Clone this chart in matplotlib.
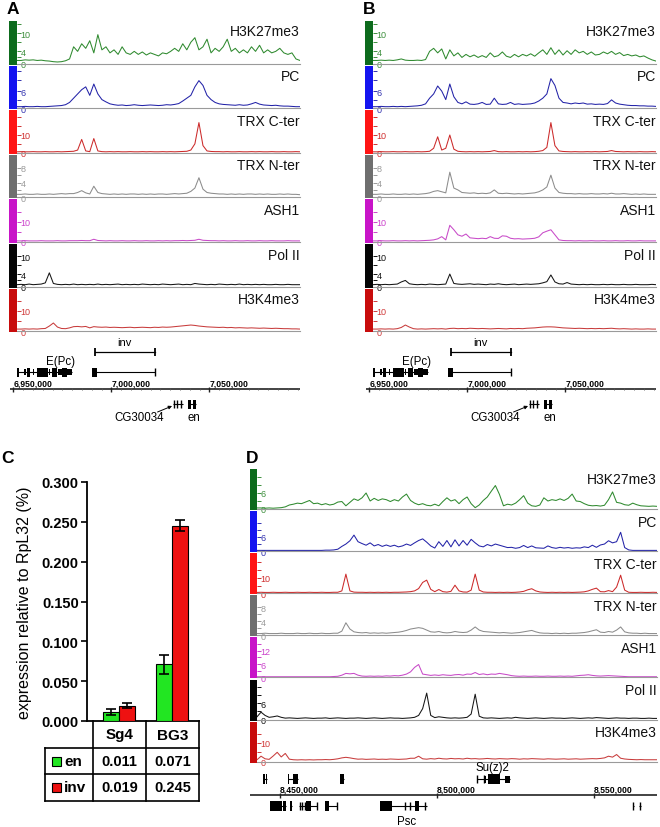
import numpy as np
import matplotlib
matplotlib.use("Agg")
import matplotlib.pyplot as plt
from matplotlib.patches import Rectangle

plt.rcParams['font.family'] = ['Liberation Sans', 'DejaVu Sans']

# ======================= DATA =======================
track_names = ['H3K27me3', 'PC', 'TRX C-ter', 'TRX N-ter', 'ASH1', 'Pol II', 'H3K4me3']

# ---- panel A signals (evenly spaced along the visible window) ----
A_H3K27me3 = [1.0,1.0,1.2,1.1,1.2,1.0,1.1,0.9,0.8,0.6,0.5,0.6,0.9,1.5,5.5,4.0,6.5,5.0,7.5,3.5,9.5,4.5,5.5,3.5,4.5,3.0,5.5,3.5,3.0,4.0,3.0,3.8,2.8,3.5,3.0,2.5,3.5,3.2,4.0,5.0,4.0,6.5,4.5,7.0,8.5,4.5,5.5,8.0,3.5,5.0,4.0,5.5,8.0,4.0,5.0,3.5,4.5,3.5,5.5,4.0,6.0,3.5,4.5,3.5,4.0,5.0,3.5,3.0,3.5,1.5,1.0]
A_PC = [0.5,0.5,0.6,0.5,0.5,0.6,0.5,0.5,0.6,0.7,0.8,0.9,1.2,2.0,3.5,5.0,6.5,7.5,4.5,8.5,5.0,3.0,2.2,1.5,1.2,1.0,1.1,0.9,1.0,1.2,1.0,0.9,1.0,1.1,1.0,0.9,1.0,1.2,1.1,1.3,1.6,2.5,3.5,4.5,7.5,9.7,8.0,4.5,3.0,2.0,1.5,1.3,1.2,1.1,1.0,1.2,1.0,1.1,1.5,2.0,1.4,1.1,1.0,0.9,1.0,0.8,0.7,0.7,0.6,0.5,0.5]
A_TRXC = [0.5,0.6,0.5,0.5,0.6,0.5,0.5,0.6,0.5,0.5,0.6,0.5,0.6,0.7,0.8,1.5,7.5,1.0,0.6,8.0,1.0,0.6,0.5,0.6,0.5,0.6,0.5,0.5,0.6,0.5,0.5,0.6,0.5,0.6,0.5,0.5,0.6,0.5,0.6,0.5,0.6,0.7,0.8,1.5,5.0,17.0,4.0,1.0,0.7,0.6,0.6,0.5,0.6,0.5,0.5,0.6,0.5,0.5,0.6,0.5,0.6,0.5,0.5,0.6,0.5,0.5,0.6,0.5,0.5,0.6,0.5]
A_TRXN = [0.8,0.8,0.9,0.8,0.8,0.9,0.8,0.8,0.9,0.8,0.9,1.0,0.9,1.0,1.0,1.3,1.8,1.2,0.9,3.0,1.3,1.0,0.9,0.8,0.9,0.8,0.9,0.8,0.9,0.9,0.8,0.9,0.8,0.9,0.8,0.9,0.9,0.8,0.9,1.0,0.9,1.0,1.1,1.6,2.5,5.3,2.2,1.3,1.1,1.0,0.9,0.9,0.8,0.9,0.8,0.9,0.8,0.9,0.9,0.8,0.9,0.8,0.9,0.8,0.8,0.9,0.8,0.9,0.8,0.8,0.7]
A_ASH1 = [0.5,0.5,0.6,0.5,0.5,0.5,0.6,0.5,0.5,0.5,0.6,0.5,0.5,0.6,0.6,0.6,0.7,0.6,0.6,1.3,0.7,0.6,0.5,0.6,0.5,0.5,0.6,0.5,0.5,0.6,0.5,0.5,0.6,0.5,0.5,0.6,0.5,0.6,0.5,0.6,0.6,0.7,0.6,0.7,0.8,1.3,0.8,0.7,0.6,0.6,0.5,0.6,0.5,0.5,0.6,0.5,0.5,0.6,0.5,0.5,0.6,0.5,0.5,0.6,0.5,0.5,0.5,0.6,0.5,0.5,0.5]
A_PolII = [0.6,0.7,0.6,0.8,0.6,0.7,0.8,1.2,4.5,1.0,0.7,0.6,0.7,0.6,0.8,0.6,0.7,0.6,0.7,0.6,0.8,0.6,0.7,0.6,0.7,0.8,0.6,0.7,0.6,0.7,0.6,0.8,0.7,0.6,0.7,0.6,0.8,0.7,0.6,0.7,0.8,0.6,0.7,0.6,1.0,0.8,0.7,0.6,0.7,0.6,0.8,0.7,0.6,0.7,0.6,0.8,0.6,0.7,0.6,0.7,0.6,0.7,0.6,0.6,0.7,0.6,0.6,0.7,0.6,0.6,0.6]
A_H3K4me3 = [1.0,1.0,1.1,1.0,1.1,1.0,1.2,1.3,2.5,4.0,2.0,1.3,1.2,1.6,2.2,2.3,2.1,2.3,1.6,2.2,2.0,1.9,2.0,1.8,1.9,1.8,1.7,1.8,1.9,1.7,1.8,1.9,1.8,1.7,1.9,1.8,2.0,1.9,2.0,2.2,2.4,2.6,2.8,3.0,2.8,2.5,2.3,2.1,2.0,1.9,1.8,1.9,1.7,1.8,1.6,1.7,1.6,1.5,1.6,1.5,1.4,1.5,1.4,1.3,1.4,1.3,1.2,1.2,1.1,1.1,1.0]

# ---- panel B signals ----
B_H3K27me3 = [1.0,1.0,1.1,1.0,1.1,1.0,1.2,1.5,1.1,1.0,1.0,1.1,1.0,1.3,4.0,5.0,3.5,4.8,1.5,4.5,2.5,3.5,2.0,3.0,2.2,2.8,2.0,2.6,2.0,3.5,2.2,2.6,3.8,2.4,2.0,3.0,2.2,3.0,2.5,3.2,2.4,3.5,4.5,3.0,5.2,3.0,4.5,2.8,4.2,3.0,4.5,3.5,4.0,3.0,3.8,2.8,3.0,3.8,3.2,4.0,3.0,3.6,2.6,3.0,2.5,2.8,2.2,2.5,1.8,1.2,0.8]
B_PC = [0.5,0.5,0.6,0.5,0.5,0.6,0.5,0.6,0.5,0.6,0.7,0.8,1.0,1.5,3.5,5.0,7.8,6.0,3.0,8.5,4.0,2.0,1.5,2.2,1.4,1.3,1.5,2.0,1.3,1.4,3.5,1.5,1.3,1.4,2.0,1.3,1.5,1.3,1.4,1.5,1.8,2.5,3.5,5.0,10.4,8.0,3.5,2.0,1.8,1.5,1.8,1.6,1.8,1.4,1.5,1.3,1.4,1.3,1.6,2.9,1.8,1.4,1.2,1.0,0.9,0.9,0.8,0.8,0.7,0.7,0.6]
B_TRXC = [0.5,0.5,0.6,0.5,0.5,0.6,0.5,0.5,0.6,0.5,0.5,0.6,0.5,0.6,0.8,2.5,9.0,1.5,2.5,10.0,2.0,0.8,0.6,0.5,0.6,0.5,0.6,0.5,0.6,0.7,1.2,0.6,0.5,0.6,0.5,0.5,0.6,0.5,0.6,0.5,0.6,0.8,1.2,3.0,17.0,4.0,1.0,0.7,0.6,0.5,0.6,0.5,0.5,0.6,0.5,0.6,0.5,0.6,0.7,1.2,0.7,0.6,0.5,0.6,0.5,0.5,0.6,0.5,0.5,0.6,0.5]
B_TRXN = [0.8,0.8,0.9,0.8,0.8,0.9,0.8,0.8,0.9,0.8,0.9,0.8,0.9,1.0,1.2,1.6,1.8,1.5,1.2,6.8,2.5,2.0,1.3,1.2,1.1,1.2,1.0,1.1,1.0,1.2,2.0,1.1,1.0,1.1,1.0,0.9,1.0,0.9,1.0,1.1,1.2,1.5,2.0,2.8,6.0,2.5,1.3,1.1,1.0,1.0,0.9,1.0,0.9,0.9,1.0,0.9,0.9,1.0,0.9,1.1,0.9,0.9,1.0,0.9,0.8,0.9,0.8,0.9,0.8,0.8,0.8]
B_ASH1 = [0.5,0.5,0.6,0.5,0.5,0.6,0.5,0.5,0.6,0.5,0.6,0.5,0.6,0.7,0.8,1.0,1.5,2.6,1.0,8.2,6.0,3.5,2.8,3.9,2.0,1.8,1.6,1.8,1.6,2.6,1.8,1.7,3.0,2.8,1.8,1.5,1.6,1.4,1.5,1.6,1.8,2.5,4.5,5.3,6.0,3.5,1.0,0.7,0.6,0.6,0.5,0.6,0.5,0.5,0.6,0.5,0.5,0.6,0.5,0.5,0.6,0.5,0.5,0.6,0.5,0.5,0.6,0.5,0.5,0.5,0.5]
B_PolII = [0.6,0.7,0.6,0.7,0.6,0.7,0.8,1.5,2.0,0.9,0.7,0.6,0.7,0.6,0.8,0.7,0.6,0.7,0.8,4.1,1.0,0.8,0.7,0.8,0.9,0.7,0.8,0.7,0.6,0.8,0.7,0.9,0.7,0.6,0.7,0.8,0.6,0.7,0.8,0.7,0.8,0.9,1.2,1.6,3.8,1.5,0.9,0.8,1.3,0.8,0.7,0.6,0.7,0.6,0.7,0.6,0.6,0.7,0.6,0.7,0.6,0.6,0.7,0.6,0.6,0.7,0.6,0.6,0.6,0.7,0.6]
B_H3K4me3 = [1.0,1.0,1.1,1.0,1.1,1.0,1.2,1.8,3.0,2.0,1.2,1.0,1.1,1.0,1.1,1.2,1.1,1.2,1.0,1.3,1.4,1.2,1.3,1.2,1.4,1.3,1.2,1.3,1.2,1.1,1.2,1.3,1.2,1.1,1.3,1.2,1.3,1.2,1.4,1.5,1.6,1.8,2.0,2.1,2.1,2.0,1.8,1.6,1.5,1.4,1.3,1.4,1.3,1.2,1.3,1.2,1.3,1.2,1.3,1.4,1.2,1.1,1.2,1.1,1.0,1.1,1.0,1.0,1.1,1.0,1.0]

# ---- panel D signals ----
D_H3K27me3 = [0.4,0.4,0.3,0.4,0.3,0.4,0.5,0.8,1.5,1.8,2.2,2.0,2.6,3.2,2.0,2.2,1.6,2.0,1.5,1.8,2.6,2.8,1.2,2.5,3.8,3.2,4.2,6.0,3.0,4.0,3.2,3.8,3.5,2.8,3.5,3.0,4.5,5.6,3.2,2.2,1.6,2.0,1.4,1.2,1.8,1.2,2.8,4.2,3.0,3.5,2.0,3.5,4.5,2.0,0.5,1.5,3.2,4.5,6.7,8.8,5.5,1.2,1.8,1.5,2.2,3.5,5.0,2.2,1.2,1.0,1.5,4.2,3.0,3.5,3.2,3.8,3.2,4.0,5.6,3.0,2.8,2.0,1.4,1.2,1.3,1.1,1.4,3.5,6.4,2.5,2.2,1.6,1.4,2.2,1.6,1.2,1.1,1.0,1.1,1.0]
D_PC = [0.3,0.3,0.3,0.3,0.3,0.3,0.3,0.3,0.3,0.3,0.3,0.3,0.3,0.3,0.3,0.3,0.3,0.4,0.4,0.5,0.8,2.0,3.0,4.4,6.8,4.0,3.2,2.5,3.5,2.2,2.8,2.0,2.6,2.0,2.5,1.8,2.2,3.0,2.4,3.5,4.5,5.2,3.8,2.2,1.3,4.0,2.0,4.5,1.8,4.8,2.2,4.5,2.5,5.0,3.5,2.2,1.8,2.8,2.2,3.0,2.5,2.0,1.5,1.6,1.2,1.5,2.4,1.5,2.2,1.4,1.3,1.2,2.2,1.5,1.2,1.6,1.3,1.5,1.2,1.4,1.3,1.8,1.5,2.5,1.6,2.6,3.0,4.4,3.5,4.0,8.0,1.5,0.5,0.3,0.3,0.3,0.3,0.3,0.3,0.3]
D_TRXC = [0.5,0.6,0.5,0.5,0.6,0.5,0.5,0.6,0.5,0.5,0.6,0.5,0.5,0.6,0.5,0.5,0.6,0.5,0.5,0.6,0.6,1.5,12.4,1.5,0.7,0.6,0.6,0.5,0.6,0.5,0.6,0.5,0.6,0.5,0.6,0.6,0.7,0.8,1.0,1.5,3.0,7.0,8.5,2.5,1.0,2.4,1.0,0.7,1.2,5.2,1.5,0.8,0.7,2.0,12.4,2.0,0.8,0.6,0.6,0.5,0.6,0.5,0.6,0.5,0.6,0.8,1.2,2.2,2.9,1.5,0.8,0.6,0.5,0.6,0.5,0.6,0.5,0.6,0.5,0.6,0.7,0.9,1.5,2.5,3.3,1.0,0.9,1.7,1.0,4.0,11.7,2.0,0.6,0.5,0.5,0.6,0.5,0.5,0.6,0.5]
D_TRXN = [0.5,0.5,0.6,0.5,0.5,0.5,0.6,0.5,0.5,0.5,0.6,0.5,0.5,0.6,0.5,0.5,0.6,0.5,0.5,0.6,0.6,1.2,3.6,1.8,1.0,0.8,0.7,0.8,0.6,0.7,0.6,0.7,0.6,0.7,0.8,0.9,1.1,1.4,1.8,2.0,2.2,2.0,1.5,1.0,0.9,1.1,0.8,0.7,0.8,1.1,0.9,0.8,0.9,1.5,2.4,1.5,1.1,1.0,0.9,0.8,0.7,0.8,0.7,0.6,0.7,0.8,1.0,1.2,1.4,1.0,0.7,0.6,0.6,0.5,0.6,0.5,0.6,0.5,0.6,0.6,0.7,0.8,1.0,1.3,1.6,0.9,0.8,1.1,0.9,1.5,2.4,1.0,0.7,0.6,0.6,0.5,0.6,0.5,0.5,0.5]
D_ASH1 = [0.3,0.3,0.3,0.3,0.3,0.3,0.3,0.3,0.3,0.3,0.3,0.3,0.3,0.3,0.3,0.3,0.3,0.3,0.3,0.4,0.5,1.0,1.8,1.6,1.8,1.0,0.6,0.5,0.6,0.5,0.6,0.5,0.7,0.6,0.8,0.7,1.0,1.5,2.5,4.5,5.8,1.5,1.2,0.9,1.1,0.9,1.2,1.0,0.9,1.2,1.3,1.0,1.5,1.4,2.2,1.3,1.6,1.2,1.5,1.4,1.8,1.5,1.2,0.8,0.6,0.5,0.6,0.5,0.5,0.6,0.5,0.5,0.6,0.5,0.5,0.6,0.5,0.6,0.5,0.7,0.9,1.0,1.2,0.9,0.7,0.6,0.7,0.8,0.7,0.6,0.5,0.4,0.3,0.3,0.3,0.3,0.3,0.3,0.3,0.3]
D_PolII = [1.0,2.7,1.5,0.8,1.0,1.3,0.8,0.5,0.6,0.5,0.4,0.5,0.6,0.5,0.4,0.5,0.5,0.6,0.4,0.5,0.6,0.5,0.4,0.5,0.5,0.6,0.5,0.4,0.5,0.6,0.5,0.4,0.5,0.6,0.5,0.5,0.4,0.5,0.6,0.8,1.5,4.0,9.7,1.5,0.7,1.0,0.8,0.6,0.5,0.6,0.5,0.6,0.8,2.0,9.3,1.2,0.6,0.5,0.6,0.5,0.4,0.5,0.6,0.5,0.8,0.6,0.5,0.4,0.5,0.6,0.5,0.4,0.5,0.6,0.5,0.5,0.4,0.5,0.6,0.5,0.4,0.5,0.6,0.5,0.7,0.6,0.5,0.4,0.5,0.6,0.5,0.5,0.4,0.5,0.5,0.4,0.4,0.5,0.4,0.4]
D_H3K4me3 = [1.0,2.9,1.5,1.2,3.0,5.0,2.5,4.4,1.3,1.0,0.9,1.0,0.9,1.0,0.9,1.0,1.0,1.1,1.0,1.2,1.5,2.0,2.3,2.0,1.6,1.3,1.4,1.2,1.3,1.4,1.2,1.3,1.2,1.4,1.3,1.2,1.3,1.4,1.8,1.8,2.9,1.5,1.3,1.6,1.4,1.8,1.5,1.4,1.7,1.5,1.6,1.4,1.8,1.5,1.6,1.4,1.5,1.7,1.5,1.4,1.6,1.5,1.4,1.6,1.5,1.3,1.5,1.4,1.6,1.5,1.4,1.3,1.5,1.4,1.3,1.4,1.5,1.3,1.4,1.5,1.3,1.4,1.5,1.6,1.5,1.7,2.0,2.9,2.4,3.8,1.8,1.4,1.2,1.1,1.0,1.1,1.0,1.0,1.0,1.0]

A_signals = [A_H3K27me3, A_PC, A_TRXC, A_TRXN, A_ASH1, A_PolII, A_H3K4me3]
B_signals = [B_H3K27me3, B_PC, B_TRXC, B_TRXN, B_ASH1, B_PolII, B_H3K4me3]
D_signals = [D_H3K27me3, D_PC, D_TRXC, D_TRXN, D_ASH1, D_PolII, D_H3K4me3]

# track scale maxima and labelled ticks
AB_ymax = [14, 15, 24, 11.5, 21, 14, 21]
AB_ticks = [[0, 4, 10], [0, 6], [0, 10], [0, 4, 8], [0, 10], [0, 4, 10], [0, 10]]
AB_minor = [[2, 7, 13], [3, 10, 13], [5, 15, 20], [2, 6], [5, 15], [2, 7], [5, 15]]
D_ymax = [15, 17, 26, 11.5, 18, 14.7, 21.5]
D_ticks = [[0, 6], [0, 6], [0, 10], [0, 4, 8], [0, 6, 12], [0, 6], [0, 10]]
D_minor = [[3, 9, 12], [3, 9, 12], [5, 15, 20], [2, 6], [3, 9, 15], [3, 9, 12], [5, 15]]

# genomic scale ticks
AB_scale_ticks = [6950000, 7000000, 7050000]
D_scale_ticks = [8450000, 8500000, 8550000]

# gene models (line extent, exons (start, end, kind))
EPc_gene = ((6951900, 6979900), [(6952100, 6952700, 'c'), (6955400, 6956400, 'u'), (6957000, 6958300, 'c'),
                                  (6960000, 6960600, 'u'), (6962100, 6962900, 'c'), (6963100, 6967700, 'c'),
                                  (6968200, 6968700, 'u'), (6969700, 6972300, 'c'), (6972600, 6974800, 'u'),
                                  (6974900, 6977400, 'c'), (6977400, 6979700, 'u')])
inv_gene = ((6990150, 7022250), [(6990150, 6992700, 'c'), (7022000, 7022300, 't')])
inv_region = (6991700, 7022250)
CG30034_gene = ((7031700, 7036600), [(7031600, 7031900, 't'), (7033400, 7033700, 't'), (7035300, 7035600, 't')])
en_gene = ((7039100, 7043200), [(7039100, 7040600, 'c'), (7041700, 7043200, 'c')])

D_upper_genes = [
    ((8444580, 8445900), [(8444580, 8445100, 'c'), (8445400, 8445900, 'c')]),
    ((8452550, 8455730), [(8452450, 8452800, 'c'), (8454140, 8455730, 'c')]),
    ((8469110, 8470380), [(8469110, 8470380, 'c')]),
    ((8512745, 8523255), [(8512745, 8513000, 't'), (8514700, 8515000, 't'), (8515300, 8515700, 'u'),
                          (8516250, 8520070, 'c'), (8521660, 8523255, 'u')]),
]
D_lower_genes = [
    ((8446815, 8452070), [(8446815, 8448570, 'c'), (8448885, 8450480, 'c'), (8450955, 8452070, 'c')]),
    ((8453185, 8453820), [(8453185, 8453820, 'c')]),
    ((8456050, 8461785), [(8456050, 8456400, 't'), (8456850, 8457200, 't'), (8457640, 8458000, 't'),
                          (8458300, 8459870, 'c'), (8461500, 8461800, 't')]),
    ((8464330, 8468150), [(8464330, 8465600, 'c'), (8467850, 8468150, 't')]),
    ((8481850, 8496820), [(8481850, 8485670, 'c'), (8489700, 8490000, 't'), (8491300, 8491600, 't'),
                          (8492990, 8494270, 'c'), (8496100, 8496400, 't')]),
    ((8562300, 8562650), [(8562300, 8562650, 't')]),
    ((8564500, 8564850), [(8564500, 8564850, 't')]),
]

# ---- panel C ----
cell_lines = ['Sg4', 'BG3']
en_vals = [0.011, 0.071]
inv_vals = [0.019, 0.245]
en_err = [0.004, 0.012]
inv_err = [0.003, 0.007]
series_names = ['en', 'inv']

# ======================= STYLE / LAYOUT =======================
bar_colors = ['#0d6b1d', '#1414f0', '#ff1414', '#6f6f6f', '#c814c8', '#050505', '#c80c0c']
line_colors = ['#2f8a2f', '#2323a8', '#cc2a2a', '#8c8c8c', '#c84ac8', '#151515', '#c83c3c']
tick_colors = ['#3d8f3d', '#3333b0', '#d03030', '#9a9a9a', '#cc44cc', '#111111', '#d03a3a']
GREEN = '#22e622'
RED = '#ee1111'

W, H = 660, 828
fig = plt.figure(figsize=(W / 100, H / 100), dpi=100)
fig.patch.set_facecolor('white')


def px_axes(x0, y0, x1, y1):
    return fig.add_axes([x0 / W, 1 - y1 / H, (x1 - x0) / W, (y1 - y0) / H])


def gx(px, ref_px, ref_g, bpp):
    return ref_g + (px - ref_px) * bpp


def draw_tracks(signals, bar_x0, bar_x1, ax_x1, top, pitch, height, ref_px, ref_g, bpp,
                ymaxes, ticks, minors):
    for k, vals in enumerate(signals):
        y0 = top + k * pitch
        y1 = y0 + height
        ax = px_axes(bar_x1, y0, ax_x1, y1)
        x_lo, x_hi = gx(bar_x1, ref_px, ref_g, bpp), gx(ax_x1, ref_px, ref_g, bpp)
        xs = np.linspace(x_lo, x_hi, len(vals))
        ax.plot(xs, vals, color=line_colors[k], lw=0.75)
        ax.set_xlim(x_lo, x_hi)
        ax.set_ylim(0, ymaxes[k])
        ax.patch.set_alpha(0)
        for s in ('top', 'right', 'left'):
            ax.spines[s].set_visible(False)
        ax.spines['bottom'].set_color('#9a9a9a')
        ax.spines['bottom'].set_linewidth(0.8)
        ax.set_xticks([])
        ax.set_yticks(ticks[k], [str(t) for t in ticks[k]])
        ax.set_yticks(minors[k], minor=True)
        ax.tick_params(axis='y', which='both', direction='in', length=3, width=0.7,
                       colors=tick_colors[k], labelsize=6.5, pad=-2.6)
        for lab in ax.get_yticklabels():
            lab.set_horizontalalignment('left')
        ax.text(1.0, 1 - 3.5 / height, track_names[k], transform=ax.transAxes,
                ha='right', va='top', fontsize=10, color='#111111')
        fig.add_artist(Rectangle((bar_x0 / W, 1 - (y1 + 1) / H), (bar_x1 - bar_x0) / W,
                                 (height + 1) / H, transform=fig.transFigure,
                                 facecolor=bar_colors[k], edgecolor='none'))


def gene_axes(x0, x1, y0, y1, ref_px, ref_g, bpp):
    ax = px_axes(x0, y0, x1, y1)
    ax.set_xlim(gx(x0, ref_px, ref_g, bpp), gx(x1, ref_px, ref_g, bpp))
    ax.set_ylim(y1, y0)
    ax.axis('off')
    return ax


def draw_gene(ax, y, gene, hmap):
    (ls, le), exons = gene
    ax.plot([ls, le], [y, y], color='black', lw=0.8, solid_capstyle='butt')
    for s, e, kind in exons:
        h = hmap[kind]
        if kind == 't':
            ax.vlines((s + e) / 2, y - h / 2, y + h / 2, color='black', lw=1.0)
        else:
            ax.add_patch(Rectangle((s, y - h / 2), e - s, h, facecolor='black', edgecolor='none'))


def draw_scale(ax, y, majors, minor_step=None):
    x_lo, x_hi = ax.get_xlim()
    ax.plot([x_lo, x_hi], [y, y], color='#222222', lw=1.2, solid_capstyle='butt')
    ax.vlines(majors, y - 2.5, y + 2.5, color='#222222', lw=1.0)
    if minor_step:
        mins = np.arange(np.ceil(x_lo / minor_step) * minor_step, x_hi, minor_step)
        mins = [m for m in mins if m not in majors]
        ax.vlines(mins, y - 1.0, y + 1.0, color='#555555', lw=0.6)
    for m in majors:
        ax.text(m, y - 6, f"{m:,}", ha='left', va='center', fontsize=6.2, fontweight='bold')


# ---------------- Panels A and B ----------------
AB_bpp = 510.2
for panel, signals, dx in (('A', A_signals, 0), ('B', B_signals, 356)):
    ref_px = 13.3 + dx
    draw_tracks(signals, 9 + dx, 17 + dx, 300 + dx, 22, 44.6, 42.5, ref_px, 6950000, AB_bpp,
                AB_ymax, AB_ticks, AB_minor)
    gax = gene_axes(10 + dx, 300 + dx, 336, 430, ref_px, 6950000, AB_bpp)
    hm = {'c': 9, 'u': 6, 't': 8}
    draw_gene(gax, 373, EPc_gene, hm)
    draw_gene(gax, 373, inv_gene, hm)
    # inv region bracket
    gax.plot(list(inv_region), [353, 353], color='black', lw=0.9)
    gax.vlines(list(inv_region), 349, 357, color='black', lw=1.3)
    gax.text(sum(inv_region) / 2 - 300, 343, 'inv', ha='center', va='center', fontsize=8)
    gax.text(6974300, 362, 'E(Pc)', ha='center', va='center', fontsize=8.3)
    draw_scale(gax, 390, AB_scale_ticks, minor_step=5000)
    draw_gene(gax, 405, CG30034_gene, hm)
    draw_gene(gax, 405, en_gene, hm)
    gax.text(7014100, 418, 'CG30034', ha='center', va='center', fontsize=8.3)
    gax.text(7042200, 418, 'en', ha='center', va='center', fontsize=8.3)
    gax.annotate('', xy=(7031000, 407), xytext=(7023600, 413),
                 arrowprops=dict(arrowstyle='-|>', color='black', lw=0.7, mutation_scale=5,
                                 shrinkA=0, shrinkB=0))
    fig.text((13 + dx) / W, 1 - 10 / H, panel, ha='center', va='center', fontsize=12.5,
             fontweight='bold')

# ---------------- Panel D ----------------
D_bpp = 318.5
draw_tracks(D_signals, 250, 257, 657, 470, 42.1, 40, 280, 8450000, D_bpp,
            D_ymax, D_ticks, D_minor)
dax = gene_axes(250, 657, 758, 828, 280, 8450000, D_bpp)
hmD = {'c': 10, 'u': 7, 't': 8}
for g in D_upper_genes:
    draw_gene(dax, 780, g, hmD)
for g in D_lower_genes:
    draw_gene(dax, 807, g, hmD)
draw_scale(dax, 796, D_scale_ticks)
dax.text(8517800, 768, 'Su(z)2', ha='center', va='center', fontsize=8.3)
dax.text(8490400, 822, 'Psc', ha='center', va='center', fontsize=8.3)
fig.text(252 / W, 1 - 459 / H, 'D', ha='center', va='center', fontsize=12.5, fontweight='bold')

# ---------------- Panel C ----------------
axc = px_axes(87, 483, 199, 722)
x = np.arange(len(cell_lines))
ekw = dict(elinewidth=1.2, capthick=1.2, ecolor='black')
axc.bar(x - 0.165, en_vals, 0.30, yerr=en_err, color=GREEN, edgecolor='black', lw=0.8,
        capsize=3.5, error_kw=ekw, zorder=3)
axc.bar(x + 0.14, inv_vals, 0.30, yerr=inv_err, color=RED, edgecolor='black', lw=0.8,
        capsize=3.5, error_kw=ekw, zorder=3)
axc.set_xlim(-0.613, 1.5)
axc.set_ylim(0, 0.3)
axc.set_yticks(np.arange(0, 0.3001, 0.05))
axc.yaxis.set_major_formatter('{x:.3f}')
axc.set_xticks([])
for s in ('top', 'right'):
    axc.spines[s].set_visible(False)
for s in ('left', 'bottom'):
    axc.spines[s].set_linewidth(1.3)
axc.tick_params(axis='y', direction='out', length=4, width=1.2, labelsize=10.5, pad=2)
for lab in axc.get_yticklabels():
    lab.set_fontweight('bold')
fig.text(25 / W, 1 - 603 / H, 'expression relative to RpL32 (%)', rotation=90,
         ha='center', va='center', fontsize=11.5)
fig.text(8 / W, 1 - 459 / H, 'C', ha='center', va='center', fontsize=12.5, fontweight='bold')

# table under the bar chart
tax = px_axes(0, 700, 240, 828)
tax.set_xlim(0, 240)
tax.set_ylim(828, 700)
tax.axis('off')
tlw = 1.2
col_x = [45, 93, 146, 199]
row_y = [722, 749, 775, 802]
for xv in col_x[1:]:
    tax.plot([xv, xv], [row_y[0], row_y[-1]], color='black', lw=tlw)
tax.plot([col_x[0], col_x[0]], [row_y[1], row_y[-1]], color='black', lw=tlw)
for yv in row_y[1:]:
    tax.plot([col_x[0], col_x[-1]], [yv, yv], color='black', lw=tlw)
for j, name in enumerate(cell_lines):
    cx = (col_x[j + 1] + col_x[j + 2]) / 2
    tax.text(cx, (row_y[0] + row_y[1]) / 2, name, ha='center', va='center', fontsize=11,
             fontweight='bold')
    for r, vals in enumerate((en_vals, inv_vals)):
        tax.text(cx, (row_y[r + 1] + row_y[r + 2]) / 2, f"{vals[j]:.3f}", ha='center',
                 va='center', fontsize=10.5, fontweight='bold')
for r, (nm, col) in enumerate(zip(series_names, (GREEN, RED))):
    yc = (row_y[r + 1] + row_y[r + 2]) / 2
    tax.add_patch(Rectangle((52, yc - 4.5), 9, 9, facecolor=col, edgecolor='black', lw=0.8))
    tax.text(64, yc, nm, ha='left', va='center', fontsize=11, fontweight='bold')

fig.savefig('out.png', dpi=100)
